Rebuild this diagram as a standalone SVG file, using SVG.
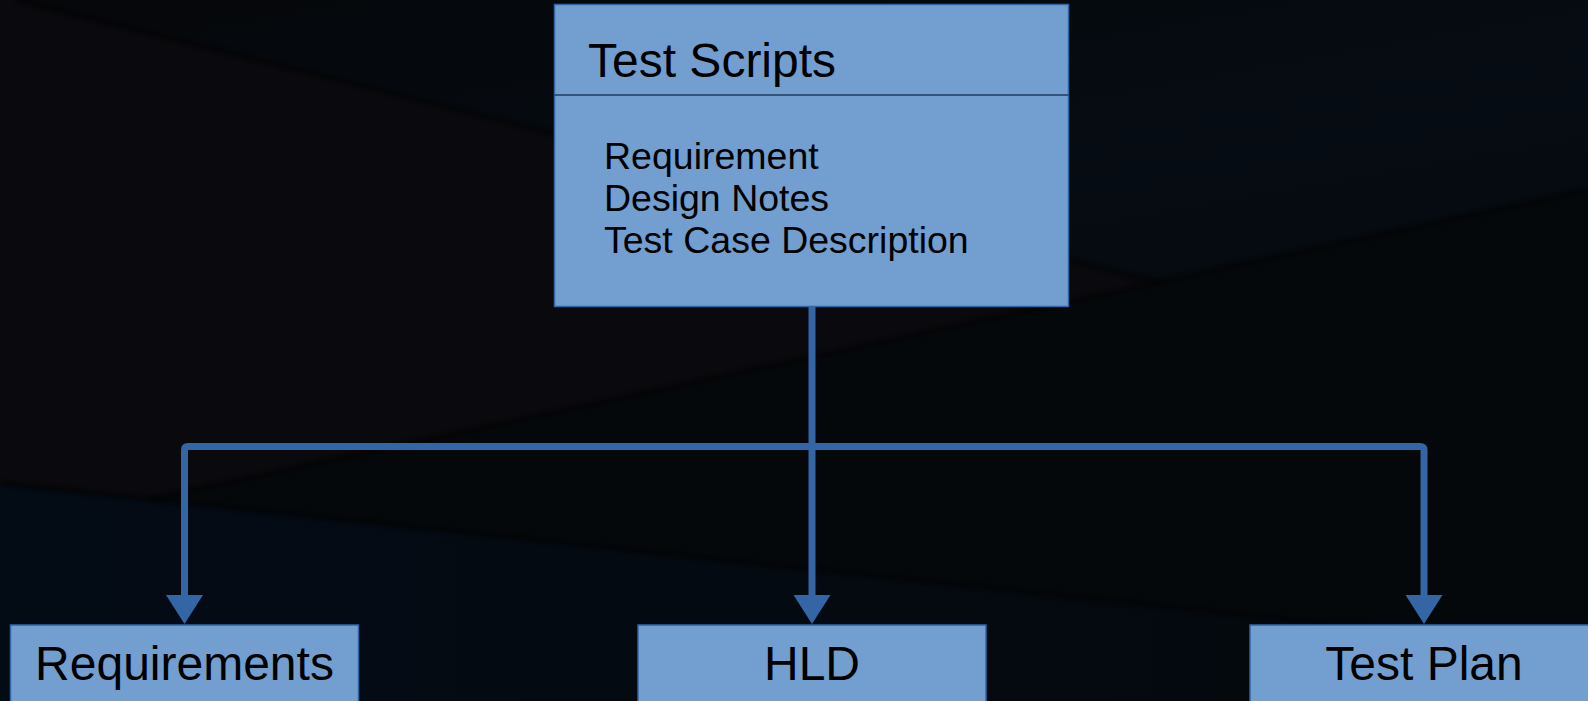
<svg xmlns="http://www.w3.org/2000/svg" width="1588" height="701" viewBox="0 0 1588 701">
<style>
.box{fill:#729fcf;stroke:#3465a4;stroke-width:1.5}
.lbl{font-family:"Liberation Sans",Arial,sans-serif;fill:#000}
.big{font-size:48px}
.body{font-size:37.5px}
.conn{fill:none;stroke:#3465a4;stroke-width:7;stroke-linejoin:round}
.edge{fill:none;stroke:#000;stroke-width:6;opacity:0.5}
</style>
<defs>
<marker id="arr" markerUnits="userSpaceOnUse" viewBox="0 0 29 37" markerWidth="29" markerHeight="37" refX="1" refY="18.5" orient="auto">
<path d="M0 0 L29 18.5 L0 37 Z" fill="#3465a4"/>
</marker>
<linearGradient id="gA" x1="0" y1="0" x2="1" y2="1">
<stop offset="0" stop-color="#05070a"/>
<stop offset="0.6" stop-color="#060c13"/>
<stop offset="1" stop-color="#050a0e"/>
</linearGradient>
<linearGradient id="gD" x1="0" y1="0" x2="1" y2="0">
<stop offset="0" stop-color="#030b15"/>
<stop offset="1" stop-color="#05090d"/>
</linearGradient>
<filter id="soft" x="-5%" y="-50%" width="110%" height="200%">
<feGaussianBlur stdDeviation="2.5"/>
</filter>
</defs>
<g id="background">
<rect x="0" y="0" width="1588" height="701" fill="#0a090d"/>
<polygon points="15,0 1588,0 1588,190 1160,283" fill="url(#gA)"/>
<polygon points="150,499 1160,283 1588,190 1588,651 0,483" fill="#05080b"/>
<polygon points="0,483 1588,651 1588,701 0,701" fill="url(#gD)"/>
<g filter="url(#soft)">
<path class="edge" d="M15 0 L1160 283"/>
<path class="edge" d="M150 499 L1588 190"/>
<path class="edge" d="M0 483 L1588 651"/>
</g>
</g>
<g id="connectors">
<path class="conn" d="M812 306 V596" marker-end="url(#arr)"/>
<path class="conn" d="M812 446.5 H188 Q184.5 446.5 184.5 450 V596" marker-end="url(#arr)"/>
<path class="conn" d="M812 446.5 H1420 Q1424 446.5 1424 450 V596" marker-end="url(#arr)"/>
</g>
<g id="test-scripts">
<rect class="box" x="554.5" y="4.5" width="514" height="302"/>
<line x1="554.5" y1="95" x2="1068.5" y2="95" stroke="#1e3c5e" stroke-width="1.5"/>
<text class="lbl big" x="588" y="77">Test Scripts</text>
<text class="lbl body" x="604" y="168.5">Requirement</text>
<text class="lbl body" x="604" y="210.5">Design Notes</text>
<text class="lbl body" x="604" y="252.5">Test Case Description</text>
</g>
<g id="requirements">
<rect class="box" x="10.5" y="625" width="348" height="90"/>
<text class="lbl big" x="184.5" y="680" text-anchor="middle">Requirements</text>
</g>
<g id="hld">
<rect class="box" x="638" y="625" width="348" height="90"/>
<text class="lbl big" x="812" y="680" text-anchor="middle">HLD</text>
</g>
<g id="test-plan">
<rect class="box" x="1250" y="625" width="348" height="90"/>
<text class="lbl big" x="1424" y="680" text-anchor="middle">Test Plan</text>
</g>
</svg>
